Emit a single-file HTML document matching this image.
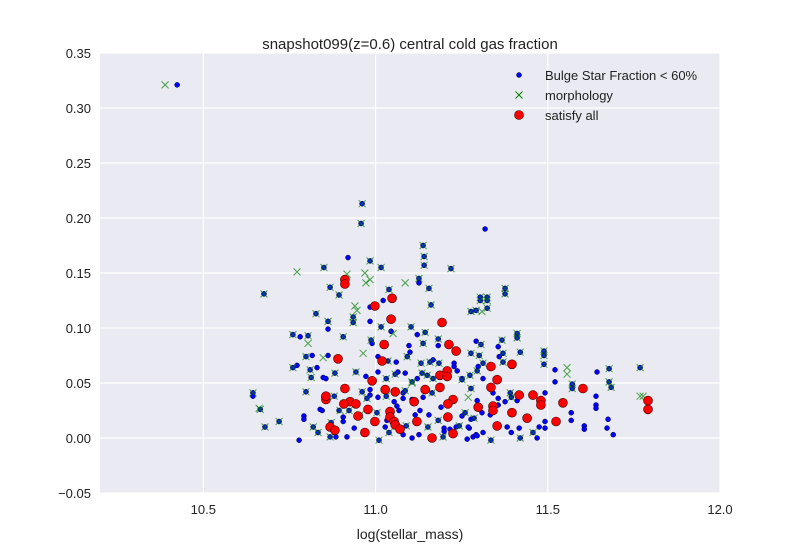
<!DOCTYPE html>
<html><head><meta charset="utf-8"><style>
body{margin:0;background:#fff;}
svg text{font-family:"Liberation Sans","DejaVu Sans",sans-serif;fill:#222;}
</style></head><body>
<svg id="chart" width="800" height="550" viewBox="0 0 800 550" xmlns="http://www.w3.org/2000/svg">
<rect x="100" y="53" width="620" height="440" fill="#EAEAF2"/>
<g id="grid"></g>
<g id="ticks"></g>
<g id="marks"></g>
<text x="410" y="49" text-anchor="middle" font-size="15">snapshot099(z=0.6) central cold gas fraction</text>
<text x="410" y="539" text-anchor="middle" font-size="14">log(stellar_mass)</text>
<g>
<circle cx="519" cy="75" r="2.5" fill="#0000ff" stroke="#000040" stroke-width="0.5"/>
<text x="545" y="80" font-size="13">Bulge Star Fraction &lt; 60%</text>
<path d="M515.5 91.5L522.5 98.5M522.5 91.5L515.5 98.5" stroke="#008000" stroke-width="1"/>
<text x="545" y="100" font-size="13">morphology</text>
<circle cx="519" cy="115" r="4.5" fill="#ff0000" stroke="#400000" stroke-width="0.6"/>
<text x="545" y="120" font-size="13">satisfy all</text>
</g>
</svg>
<script>
const xTicks=[10.5,11.0,11.5,12.0];
const xTickLabels=["10.5","11.0","11.5","12.0"];
const yTicks=[-0.05,0.00,0.05,0.10,0.15,0.20,0.25,0.30,0.35];
const yTickLabels=["\u22120.05","0.00","0.05","0.10","0.15","0.20","0.25","0.30","0.35"];
const blueX=[10.961,10.958,10.920,10.984,11.016,10.850,11.138,11.141,11.141,11.219,11.126,11.126,11.155,10.868,10.894,10.676,11.039,11.022,11.161,10.984,10.827,10.862,10.862,10.935,10.935,10.984,11.016,11.045,11.103,11.144,10.760,10.781,10.804,10.906,10.987,10.990,11.121,11.138,11.182,11.182,11.097,10.798,10.816,10.862,11.007,11.036,11.060,11.092,11.100,11.132,11.158,11.167,11.184,11.228,11.228,10.760,10.772,10.810,10.813,10.830,10.848,10.856,10.882,10.943,10.972,11.007,11.031,11.057,11.065,11.086,11.106,11.121,11.135,11.150,11.167,11.237,11.251,11.274,11.295,11.298,10.644,10.644,10.665,10.720,10.679,10.798,10.792,10.792,10.819,10.833,10.778,10.839,10.845,10.850,10.871,10.868,10.885,10.880,10.894,10.906,10.906,10.917,10.923,10.938,10.955,10.961,10.975,10.984,10.984,11.004,11.010,11.007,11.031,11.033,11.028,11.039,11.054,11.062,11.068,11.080,11.080,11.086,11.089,11.080,11.106,11.106,11.115,11.126,11.129,11.138,11.152,11.155,11.164,11.182,11.190,11.196,11.199,11.216,11.243,11.251,11.260,11.272,11.266,11.283,11.292,11.295,11.277,11.318,11.304,11.324,11.304,11.324,11.376,11.376,11.277,11.292,11.324,11.411,11.411,11.367,11.292,11.306,11.356,11.277,11.370,11.420,11.489,11.489,11.489,11.301,11.312,11.359,11.370,11.251,11.312,11.521,11.521,11.571,11.571,11.643,11.678,11.678,11.684,11.640,11.640,11.640,11.568,11.568,11.606,11.606,11.675,11.672,11.690,11.492,11.492,11.475,11.492,11.457,11.469,11.420,11.417,11.382,11.394,11.356,11.356,11.341,11.333,11.391,11.394,11.411,11.376,11.286,11.295,11.312,11.335,11.309,11.277,11.269,11.234,11.199,10.424,11.768];
const blueY=[0.213,0.195,0.164,0.161,0.155,0.155,0.175,0.165,0.157,0.154,0.145,0.141,0.136,0.137,0.130,0.131,0.135,0.125,0.121,0.119,0.113,0.106,0.099,0.110,0.105,0.106,0.101,0.097,0.101,0.096,0.094,0.092,0.093,0.092,0.089,0.086,0.094,0.086,0.090,0.084,0.084,0.074,0.075,0.075,0.074,0.070,0.069,0.074,0.078,0.068,0.069,0.071,0.068,0.068,0.065,0.064,0.066,0.062,0.055,0.064,0.055,0.054,0.059,0.060,0.056,0.060,0.054,0.058,0.060,0.059,0.051,0.054,0.059,0.057,0.054,0.061,0.054,0.057,0.061,0.065,0.041,0.038,0.026,0.015,0.010,0.042,0.020,0.017,0.010,0.005,-0.002,0.026,0.025,0.037,0.014,0.001,0.001,0.038,0.025,0.019,0.015,0.001,0.025,0.009,0.021,0.042,0.036,0.044,0.039,0.023,-0.002,0.037,0.038,0.016,0.010,0.005,0.033,0.029,0.025,0.041,0.036,0.043,0.011,0.003,0.000,0.035,0.021,0.003,0.025,0.037,0.010,0.021,0.041,0.016,0.028,0.001,0.009,0.008,0.011,0.020,0.023,0.009,-0.001,0.001,0.003,0.034,0.045,0.190,0.128,0.128,0.125,0.125,0.136,0.131,0.115,0.116,0.118,0.095,0.091,0.089,0.088,0.085,0.083,0.077,0.077,0.078,0.079,0.075,0.067,0.075,0.068,0.074,0.069,0.053,0.054,0.062,0.051,0.049,0.045,0.060,0.063,0.051,0.046,0.038,0.030,0.027,0.023,0.016,0.011,0.008,0.017,0.009,0.003,0.041,0.015,0.010,0.009,0.005,0.000,0.000,0.009,0.010,0.005,0.030,0.036,0.041,0.021,0.041,0.037,0.034,0.033,0.018,0.002,0.005,-0.002,0.023,0.017,0.010,0.010,0.006,0.321,0.064];
const crossX=[10.961,10.958,10.984,11.016,10.850,11.138,11.141,11.141,11.219,11.126,11.155,10.868,10.894,10.676,11.039,11.161,10.827,10.862,10.935,10.935,11.016,11.103,11.144,10.760,10.804,10.906,10.987,11.138,11.182,10.798,11.036,11.092,11.132,11.158,11.184,10.760,10.810,10.813,10.882,10.943,11.031,11.057,11.106,11.135,11.150,11.167,11.274,11.295,10.644,10.665,10.720,10.679,10.798,10.819,10.833,10.871,10.868,10.880,10.923,10.955,10.961,10.975,11.004,11.010,11.031,11.039,11.086,11.089,11.152,11.164,11.182,11.196,11.243,11.260,11.277,11.304,11.324,11.304,11.324,11.376,11.376,11.277,11.292,11.324,11.411,11.411,11.367,11.306,11.277,11.370,11.420,11.489,11.489,11.489,11.301,11.312,11.370,11.251,11.571,11.571,11.678,11.678,11.684,11.457,11.420,11.391,11.394,11.286,11.335,11.768,10.389,10.772,11.086,11.309,11.556,11.556,11.768,11.777,10.917,10.969,10.984,10.972,10.940,10.946,10.804,10.848,10.964,11.051,10.662,11.106,10.897,11.269];
const crossY=[0.213,0.195,0.161,0.155,0.155,0.175,0.165,0.157,0.154,0.145,0.136,0.137,0.130,0.131,0.135,0.121,0.113,0.106,0.110,0.105,0.101,0.101,0.096,0.094,0.093,0.092,0.089,0.086,0.090,0.074,0.070,0.074,0.068,0.069,0.068,0.064,0.062,0.055,0.059,0.060,0.054,0.058,0.051,0.059,0.057,0.054,0.057,0.061,0.041,0.026,0.015,0.010,0.042,0.010,0.005,0.014,0.001,0.038,0.025,0.021,0.042,0.036,0.023,-0.002,0.038,0.005,0.043,0.011,0.010,0.041,0.016,0.001,0.011,0.023,0.045,0.128,0.128,0.125,0.125,0.136,0.131,0.115,0.116,0.118,0.095,0.091,0.089,0.085,0.077,0.077,0.078,0.079,0.075,0.067,0.075,0.068,0.069,0.053,0.049,0.045,0.063,0.051,0.046,0.005,0.000,0.041,0.037,0.018,-0.002,0.064,0.321,0.151,0.141,0.115,0.064,0.058,0.038,0.038,0.149,0.150,0.144,0.141,0.120,0.116,0.086,0.073,0.077,0.095,0.027,0.050,0.025,0.037];
const redX=[10.911,10.911,11.048,10.998,11.045,11.193,11.025,11.213,11.234,10.891,11.019,10.990,10.911,11.028,11.057,11.144,11.187,11.187,11.208,11.208,10.856,10.856,10.926,10.943,10.908,10.978,11.112,11.225,11.210,11.298,10.949,11.042,11.042,10.998,11.054,11.120,11.210,10.868,10.882,11.057,11.071,10.969,11.164,11.225,11.335,11.396,11.353,11.335,11.341,11.341,11.417,11.457,11.480,11.480,11.544,11.602,11.396,11.440,11.524,11.353,11.791,11.791];
const redY=[0.144,0.140,0.127,0.120,0.108,0.105,0.085,0.085,0.079,0.072,0.070,0.052,0.045,0.044,0.042,0.044,0.046,0.057,0.061,0.056,0.035,0.038,0.033,0.031,0.031,0.026,0.033,0.035,0.031,0.028,0.020,0.024,0.019,0.015,0.015,0.015,0.019,0.010,0.007,0.012,0.008,0.005,0.000,0.004,0.065,0.067,0.053,0.046,0.029,0.025,0.039,0.039,0.034,0.030,0.032,0.045,0.023,0.018,0.015,0.011,0.034,0.026];

const X0=100,X1=720,Y0=493,Y1=53,XMIN=10.2,XMAX=12.0,YMIN=-0.05,YMAX=0.35;
function sx(v){return X0+(v-XMIN)/(XMAX-XMIN)*(X1-X0);}
function sy(v){return Y0-(v-YMIN)/(YMAX-YMIN)*(Y0-Y1);}
const NS="http://www.w3.org/2000/svg";
function mk(tag,parent,attrs){const e=document.createElementNS(NS,tag);for(const k in attrs)e.setAttribute(k,attrs[k]);parent.appendChild(e);return e;}
const grid=document.getElementById('grid'),ticks=document.getElementById('ticks'),marks=document.getElementById('marks');
xTicks.forEach((t,i)=>{
  const l=mk('line',grid,{x1:sx(t),x2:sx(t),y1:Y1,y2:Y0,stroke:'#fff','stroke-width':1.2});
  
  
  const tx=mk('text',ticks,{x:sx(t),y:Y0+21,'text-anchor':'middle','font-size':13});
  tx.textContent=xTickLabels[i];
  
  
});
yTicks.forEach((t,i)=>{
  const l=mk('line',grid,{x1:X0,x2:X1,y1:sy(t),y2:sy(t),stroke:'#fff','stroke-width':1.2});
  
  
  const tx=mk('text',ticks,{x:X0-9,y:sy(t)+5,'text-anchor':'end','font-size':13});
  tx.textContent=yTickLabels[i];
  
  
});
blueX.forEach((v,i)=>{
  const c=mk('circle',marks,{cx:sx(v),cy:sy(blueY[i]),r:2.5,fill:'#0000ff',stroke:'#000040','stroke-width':0.5});
  
  
});
crossX.forEach((v,i)=>{
  const x=sx(v),y=sy(crossY[i]),s=3.5;
  const p=mk('path',marks,{d:`M${x-s} ${y-s}L${x+s} ${y+s}M${x+s} ${y-s}L${x-s} ${y+s}`,stroke:'#008000','stroke-width':1,'stroke-opacity':0.7,fill:'none'});
  
  
});
redX.forEach((v,i)=>{
  const c=mk('circle',marks,{cx:sx(v),cy:sy(redY[i]),r:4.5,fill:'#ff0000',stroke:'#400000','stroke-width':0.6});
  
  
});
</script>
</body></html>
